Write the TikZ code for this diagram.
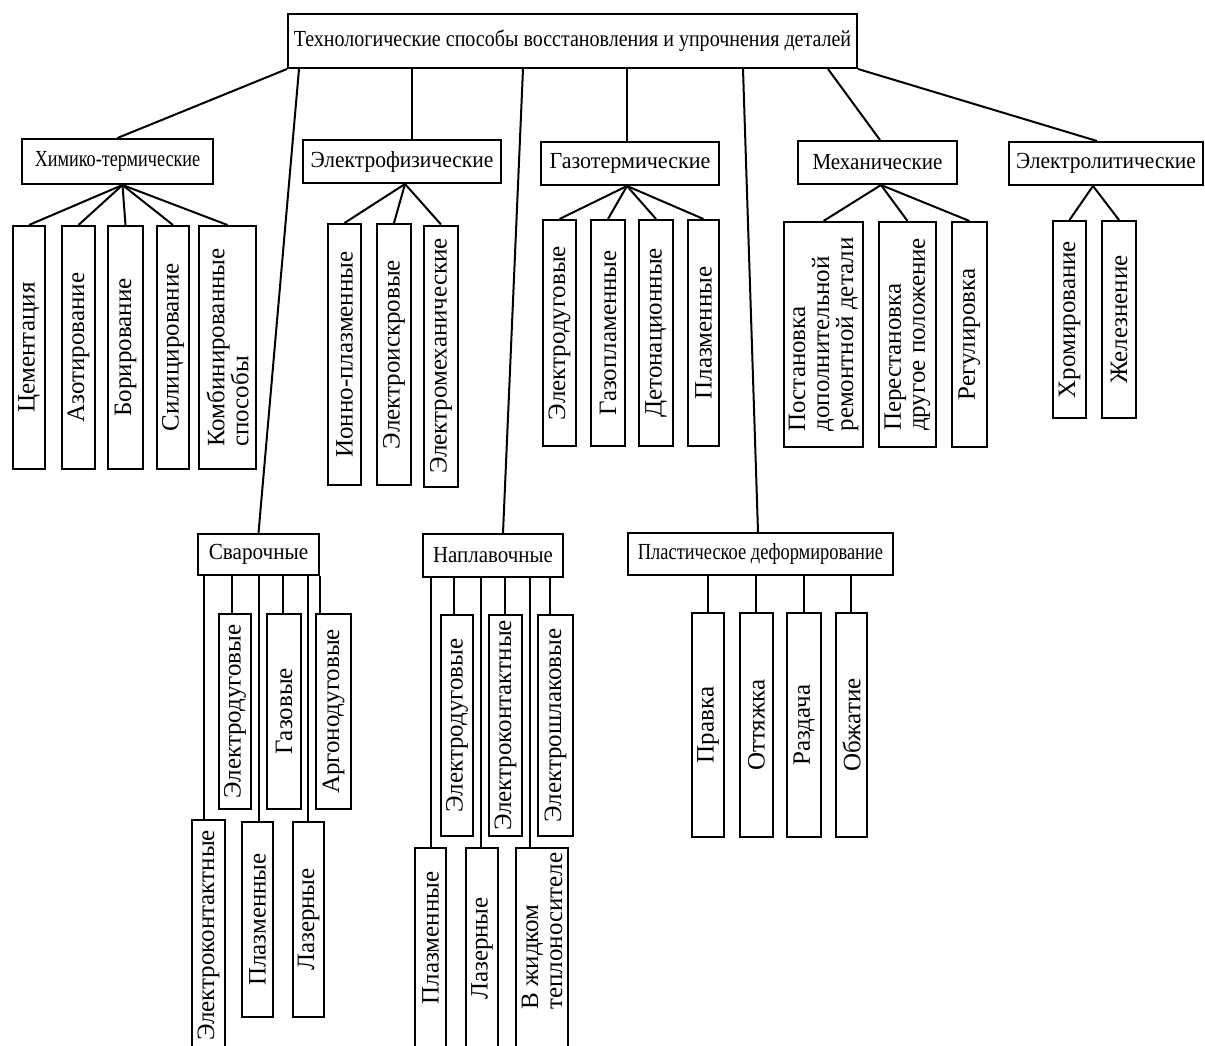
\documentclass[tikz,border=0pt]{standalone}
\usepackage{fontspec}
\setmainfont{Liberation Serif}
\newcommand{\hs}[2]{\scalebox{#1}[1]{#2}}
\begin{document}
\begin{tikzpicture}[x=1pt,y=-1pt,
  hb/.style={draw, line width=2pt, inner sep=0pt, font=\fontsize{23}{25}\selectfont},
  vb/.style={draw, line width=2pt, inner sep=0pt, rotate=90, align=left, font=\fontsize{25}{24}\selectfont},
  link/.style={line width=2pt}]
\useasboundingbox (0,0) rectangle (1205,1046);
% top
\node[hb, minimum width=569, minimum height=54] (top) at (572.5,41) {\hs{0.87}{Технологические способы восстановления и упрочнения деталей}};
% level 1
\node[hb, minimum width=191, minimum height=45] (chem) at (117.5,161.5) {\hs{0.79}{Химико-термические}};
\node[hb, minimum width=198, minimum height=43] (elph) at (402,161.5) {\hs{0.935}{Электрофизические}};
\node[hb, minimum width=178, minimum height=43] (gas) at (630,163.5) {\hs{0.96}{Газотермические}};
\node[hb, minimum width=159, minimum height=43] (mech) at (877.5,162.5) {\hs{0.913}{Механические}};
\node[hb, minimum width=194, minimum height=43] (elyt) at (1106,163.5) {\hs{0.933}{Электролитические}};
\node[hb, minimum width=121, minimum height=41] (sv) at (258.5,554.5) {\hs{0.92}{Сварочные}};
\node[hb, minimum width=140, minimum height=43] (np) at (493,555.5) {\hs{0.91}{Наплавочные}};
\node[hb, minimum width=265, minimum height=42] (pl) at (760.5,554) {\hs{0.8}{Пластическое деформирование}};
% chem children
\node[vb, minimum width=243, minimum height=32] (c1) at (29,347.5) {Цементация};
\node[vb, minimum width=243, minimum height=33] (c2) at (78.5,347.5) {Азотирование};
\node[vb, minimum width=243, minimum height=35] (c3) at (125.5,347.5) {Борирование};
\node[vb, minimum width=243, minimum height=32] (c4) at (173,347.5) {Силицирование};
\node[vb, minimum width=243, minimum height=57] (c5) at (227.5,347.5) {Комбинированные\\способы};
% elphys children
\node[vb, minimum width=261, minimum height=33] (e1) at (344.5,354.5) {Ионно-плазменные};
\node[vb, minimum width=261, minimum height=34] (e2) at (394,354.5) {Электроискровые};
\node[vb, minimum width=261, minimum height=34] (e3) at (441,356) {Электромеханические};
% gas children
\node[vb, minimum width=226, minimum height=33] (g1) at (559.5,333) {Электродуговые};
\node[vb, minimum width=226, minimum height=34] (g2) at (608,333) {Газопламенные};
\node[vb, minimum width=226, minimum height=34] (g3) at (656,333) {Детонационные};
\node[vb, minimum width=226, minimum height=31] (g4) at (703.5,333) {Плазменные};
% mech children
\node[vb, minimum width=225, minimum height=79] (m1) at (823.5,334.5) {Постановка\\дополнительной\\ремонтной детали};
\node[vb, minimum width=225, minimum height=57] (m2) at (907.5,334.5) {Перестановка\\другое положение};
\node[vb, minimum width=225, minimum height=35] (m3) at (969.5,334.5) {Регулировка};
% electrolytic children
\node[vb, minimum width=197, minimum height=33] (l1) at (1069.5,319.5) {Хромирование};
\node[vb, minimum width=197, minimum height=34] (l2) at (1119,319.5) {Железнение};
% welding children
\node[vb, minimum width=240, minimum height=33] (s1) at (208.5,940) {\hspace*{9pt}Электроконтактные};
\node[vb, minimum width=195, minimum height=32] (s2) at (235,711.5) {Электродуговые};
\node[vb, minimum width=195, minimum height=31] (s3) at (257.5,919.5) {Плазменные};
\node[vb, minimum width=195, minimum height=34] (s4) at (284,711.5) {Газовые};
\node[vb, minimum width=195, minimum height=31] (s5) at (308.5,919.5) {Лазерные};
\node[vb, minimum width=195, minimum height=35] (s6) at (333.5,711.5) {Аргонодуговые};
% surfacing children
\node[vb, minimum width=212, minimum height=31] (n1) at (430.5,954) {\hspace*{32pt}Плазменные};
\node[vb, minimum width=221, minimum height=32] (n2) at (457,725.5) {Электродуговые};
\node[vb, minimum width=212, minimum height=32] (n3) at (482,954) {\hspace*{11pt}Лазерные};
\node[vb, minimum width=221, minimum height=33] (n4) at (505.5,725.5) {Электроконтактные};
\node[vb, minimum width=212, minimum height=52] (n5) at (542,954) {\hspace*{46pt}В жидком\\\hspace*{46pt}теплоносителе};
\node[vb, minimum width=221, minimum height=35] (n6) at (555.5,725.5) {Электрошлаковые};
% plastic children
\node[vb, minimum width=224, minimum height=32] (p1) at (708,725) {Правка};
\node[vb, minimum width=224, minimum height=33] (p2) at (756.5,725) {Оттяжка};
\node[vb, minimum width=224, minimum height=34] (p3) at (804,725) {Раздача};
\node[vb, minimum width=224, minimum height=31] (p4) at (851.5,725) {Обжатие};
% top connectors
\draw[link] (top.south west) -- (chem.north);
\draw[link] ([xshift=12]top.south west) -- (sv.north);
\draw[link] ([xshift=10]elph.north) -- ([xshift=10]elph.north |- top.south);
\draw[link] ([xshift=-49.5]top.south) -- ([xshift=10]np.north);
\draw[link] ([xshift=-3]gas.north) -- ([xshift=-3]gas.north |- top.south);
\draw[link] ([xshift=170.5]top.south) -- ([xshift=-2.5]pl.north);
\draw[link] ([xshift=255.5]top.south) -- ([xshift=2.5]mech.north);
\draw[link] (top.south east) -- ([xshift=-9]elyt.north);
% fans
\foreach \c in {c1,c2,c3,c4,c5} \draw[link] ([xshift=5]chem.south) -- (\c.east);
\foreach \c in {e1,e2,e3} \draw[link] ([xshift=3]elph.south) -- (\c.east);
\foreach \c in {g1,g2,g3,g4} \draw[link] ([xshift=-3]gas.south) -- (\c.east);
\foreach \c in {m1,m2,m3} \draw[link] ([xshift=3.5]mech.south) -- (\c.east);
\foreach \c in {l1,l2} \draw[link] ([xshift=-13]elyt.south) -- (\c.east);
% welding verticals
\draw[link] ([xshift=-4.5]s1.east) -- ([xshift=-4.5]s1.east |- sv.south);
\draw[link] ([xshift=-3]s2.east) -- ([xshift=-3]s2.east |- sv.south);
\draw[link] ([xshift=1.5]s3.east) -- ([xshift=1.5]s3.east |- sv.south);
\draw[link] ([xshift=-1]s4.east) -- ([xshift=-1]s4.east |- sv.south);
\draw[link] ([xshift=-0.5]s5.east) -- ([xshift=-0.5]s5.east |- sv.south);
\draw[link] ([xshift=-13.5]s6.east) -- ([xshift=-13.5]s6.east |- sv.south);
% surfacing verticals
\draw[link] ([xshift=0.5]n1.east) -- ([xshift=0.5]n1.east |- np.south);
\draw[link] ([xshift=-3]n2.east) -- ([xshift=-3]n2.east |- np.south);
\draw[link] ([xshift=-1]n3.east) -- ([xshift=-1]n3.east |- np.south);
\draw[link] ([xshift=-0.5]n4.east) -- ([xshift=-0.5]n4.east |- np.south);
\draw[link] ([xshift=-12]n5.east) -- ([xshift=-12]n5.east |- np.south);
\draw[link] ([xshift=-5.5]n6.east) -- ([xshift=-5.5]n6.east |- np.south);
% plastic verticals
\draw[link] (p1.east) -- (p1.east |- pl.south);
\draw[link] ([xshift=-0.5]p2.east) -- ([xshift=-0.5]p2.east |- pl.south);
\draw[link] (p3.east) -- (p3.east |- pl.south);
\draw[link] ([xshift=-0.5]p4.east) -- ([xshift=-0.5]p4.east |- pl.south);
\end{tikzpicture}
\end{document}
